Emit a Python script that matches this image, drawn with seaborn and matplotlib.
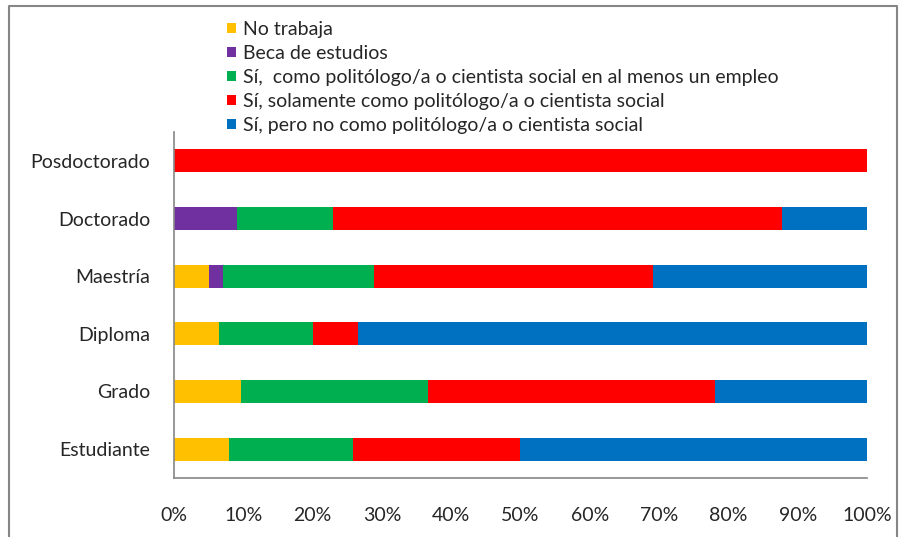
import pandas as pd
import seaborn as sns
import matplotlib.pyplot as plt
from matplotlib.patches import Patch
from matplotlib.lines import Line2D

niveles = ['Posdoctorado', 'Doctorado', 'Maestría', 'Diploma', 'Grado', 'Estudiante']
no_trabaja = [0, 0, 5.0, 6.5, 9.7, 7.9]
beca = [0, 9.1, 2.1, 0, 0, 0]
si_al_menos = [0, 13.9, 21.7, 13.5, 26.9, 18.0]
si_solamente = [100, 64.7, 40.3, 6.6, 41.5, 24.0]
si_pero_no = [0, 12.3, 30.9, 73.4, 21.9, 50.1]

series = ['No trabaja', 'Beca de estudios',
          'Sí,  como politólogo/a o cientista social en al menos un empleo',
          'Sí, solamente como politólogo/a o cientista social',
          'Sí, pero no como politólogo/a o cientista social']
colores = ['#FFC000', '#7030A0', '#00B050', '#FF0000', '#0070C0']

df = pd.DataFrame({'nivel': niveles, series[0]: no_trabaja, series[1]: beca,
                   series[2]: si_al_menos, series[3]: si_solamente, series[4]: si_pero_no})
acum = df[series].cumsum(axis=1)
acum['nivel'] = df['nivel']

sns.set_style('white')
plt.rcParams['font.family'] = ['Lato', 'DejaVu Sans']

fig = plt.figure(figsize=(9.05, 5.37), dpi=100)
ax = fig.add_axes([174 / 905, 1 - 478 / 537, 693 / 905, 346 / 537])

# stacked bars: draw cumulative totals from the last series to the first
for s, c in reversed(list(zip(series, colores))):
    sns.barplot(data=acum, x=s, y='nivel', order=niveles, color=c, width=0.4,
                saturation=1, edgecolor='none', ax=ax)

ax.set_xlim(0, 100)
ax.set_ylim(5.5, -0.5)
ax.set_xticks(range(0, 101, 10))
ax.set_xticklabels([f'{v}%' for v in range(0, 101, 10)])
ax.set_yticks([i - 0.5 for i in range(7)], minor=True)
ax.tick_params(axis='y', which='major', length=0, pad=17, labelsize=14)
ax.tick_params(axis='y', which='minor', length=5, color='#868686', width=1.2, direction='out')
ax.tick_params(axis='x', length=5, color='#868686', width=1.2, direction='out', pad=16, labelsize=14)
ax.set_xlabel('')
ax.set_ylabel('')
for side in ['top', 'right']:
    ax.spines[side].set_visible(False)
for side in ['left', 'bottom']:
    ax.spines[side].set_color('#868686')
    ax.spines[side].set_linewidth(1.2)

handles = [Patch(facecolor=c, edgecolor='none') for c in colores]
fig.legend(handles, series, loc='upper left', bbox_to_anchor=(227 / 905, 1 - 21 / 537),
           frameon=False, fontsize=14, handlelength=0.47, handleheight=0.47,
           handletextpad=0.36, labelspacing=0.36, borderpad=0, borderaxespad=0)

# chart area border
fig.add_artist(Line2D([9 / 905, 9 / 905, 897 / 905, 897 / 905],
                      [-0.01, 1 - 6 / 537, 1 - 6 / 537, -0.01],
                      color='#868686', linewidth=1.5, transform=fig.transFigure))

fig.savefig('out.png', dpi=100)
